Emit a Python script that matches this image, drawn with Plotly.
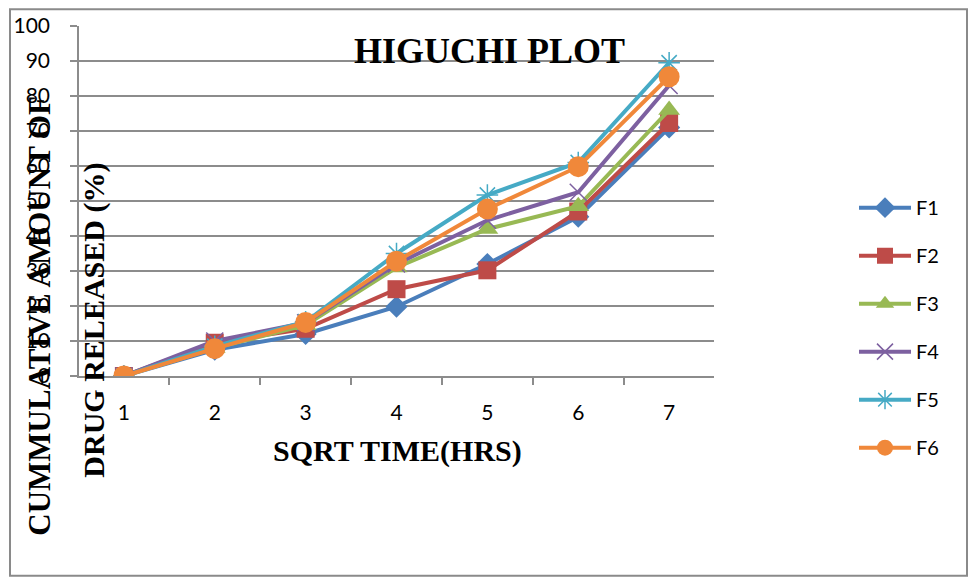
import plotly.graph_objects as go

# Higuchi release data: cumulative % drug released vs square-root of time
sqrt_time = ["1", "2", "3", "4", "5", "6", "7"]
f1 = [0, 7.5, 12.0, 19.8, 32.0, 45.5, 71.0]
f2 = [0, 9.5, 13.5, 24.8, 30.2, 47.0, 72.3]
f3 = [0, 8.0, 14.5, 31.0, 42.0, 48.5, 76.0]
f4 = [0, 10.0, 15.2, 32.0, 44.5, 52.5, 83.0]
f5 = [0, 8.5, 15.5, 35.0, 51.7, 61.0, 89.5]
f6 = [0, 7.8, 15.3, 32.8, 47.7, 59.8, 85.5]

series = [
    ("F1", f1, "#4A7EBB", "diamond", 17, 0),
    ("F2", f2, "#BE4B48", "square", 18, 0),
    ("F3", f3, "#98B954", "triangle-up", 19, 0),
    ("F4", f4, "#7D60A0", "x-thin-open", 17, 1.5),
    ("F5", f5, "#46AAC5", "asterisk-open", 18, 1.5),
    ("F6", f6, "#F0883A", "circle", 21, 0),
]

fig = go.Figure()
for name, vals, color, symbol, size, lw in series:
    fig.add_trace(go.Scatter(
        x=sqrt_time, y=vals, name=name, mode="lines+markers",
        legendgroup=name,
        line=dict(color=color, width=4),
        marker=dict(symbol=symbol, size=size, color=color,
                    line=dict(color=color, width=lw)),
    ))

L, R, T, B = 79, 714, 22, 376
W, H = 974, 582
pw, ph = R - L, B - T

def px(x):
    return (x - L) / pw

def py(y):
    return (B - y) / ph

grid = "#8C8C8C"

def label(text, x, y, size=30, angle=0):
    return dict(text=text, xref="paper", yref="paper",
                x=px(x), y=py(y), xanchor="center", yanchor="middle",
                showarrow=False, textangle=angle,
                font=dict(family="Liberation Serif", size=size, color="black"))

fig.update_layout(
    width=W, height=H,
    margin=dict(l=L, r=W - R, t=T, b=H - B),
    paper_bgcolor="white", plot_bgcolor="white",
    showlegend=True,
    legend=dict(
        x=px(854), y=py(186), xanchor="left", yanchor="top",
        font=dict(family="Lato", size=20, color="black"),
        tracegroupgap=19, itemwidth=52,
        bgcolor="rgba(0,0,0,0)",
    ),
    xaxis=dict(
        type="category", tickson="boundaries", ticks="outside",
        ticklen=7, tickcolor=grid, tickwidth=1.5,
        showline=True, linecolor=grid, linewidth=1.5,
        showgrid=False, zeroline=False,
        tickfont=dict(family="Lato", size=21, color="black"),
        ticklabelstandoff=17,
    ),
    yaxis=dict(
        range=[0, 100], dtick=10, ticks="outside", ticklen=7,
        tickcolor=grid, tickwidth=1.5,
        showline=True, linecolor=grid, linewidth=1.5,
        showgrid=True, gridcolor=grid, gridwidth=1.5, zeroline=False,
        tickfont=dict(family="Lato", size=21, color="black"),
        ticklabelstandoff=16,
    ),
    shapes=[dict(
        type="rect", xref="paper", yref="paper",
        x0=px(10), x1=px(967), y0=py(578), y1=py(5),
        line=dict(color="#8A8A8A", width=2), fillcolor="rgba(0,0,0,0)",
        layer="below",
    )],
    annotations=[
        label("<b>HIGUCHI PLOT</b>", 489, 47, size=36),
        label("<b>SQRT TIME(HRS)</b>", 397, 452),
        label("<b>CUMMULATIVE AMOUNT OF</b>", 40, 315, size=31, angle=-90),
        label("<b>DRUG RELEASED (%)</b>", 94, 320, angle=-90),
    ],
)

fig.write_html("out.html")
